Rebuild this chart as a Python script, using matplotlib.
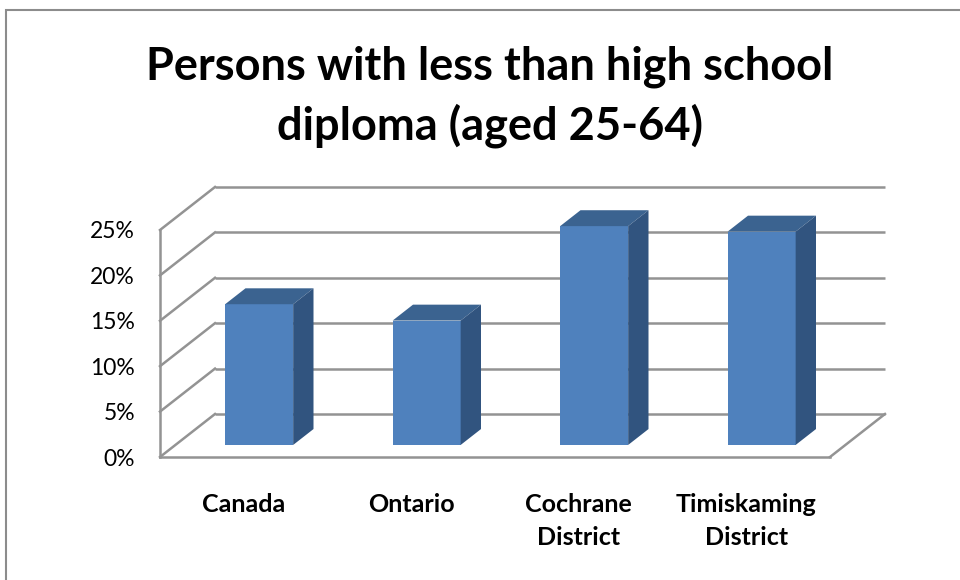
import matplotlib
matplotlib.use("Agg")
import matplotlib.pyplot as plt
from matplotlib.patches import Polygon, Rectangle

plt.rcParams['font.family'] = ['Lato', 'DejaVu Sans']

categories = ["Canada", "Ontario", "Cochrane\nDistrict", "Timiskaming\nDistrict"]
values = [0.155, 0.137, 0.241, 0.235]
ticks = [0.0, 0.05, 0.10, 0.15, 0.20, 0.25]
tick_labels = ["0%", "5%", "10%", "15%", "20%", "25%"]
title_lines = ["Persons with less than high school", "diploma (aged 25-64)"]

W, H = 960, 580
fig = plt.figure(figsize=(W / 100, H / 100), dpi=100)
fig.patch.set_facecolor("white")

# outer frame
fig.add_artist(Rectangle((6 / W, -0.1), 1.2, (H - 10) / H + 0.1, transform=fig.transFigure,
                         fill=False, edgecolor="#8c8c8c", lw=1.5))

ax = fig.add_axes([160 / W, 123 / H, 670 / W, 227 / H])
ax.set_xlim(-0.5, 3.5)
ax.set_ylim(0, 0.25)
for s in ax.spines.values():
    s.set_visible(False)
ax.set_facecolor("none")

# 3D depth offsets in data units
DX = 55 / 167.5
DY = 43 / 908.0
grid_c = "#939393"
glw = 1.8
x0, x1 = -0.5, 3.5

# back wall gridlines and left wall
for t in ticks:
    ax.plot([x0 + DX, x1 + DX], [t + DY, t + DY], color=grid_c, lw=glw, clip_on=False,
            solid_capstyle="butt", zorder=1)
    ax.plot([x0, x0 + DX], [t, t + DY], color=grid_c, lw=glw, clip_on=False, zorder=1)
ax.plot([x0, x0], [0, ticks[-1]], color=grid_c, lw=glw, clip_on=False, zorder=1)
# floor front edge and right diagonal
ax.plot([x0, x1], [0, 0], color=grid_c, lw=glw, clip_on=False, zorder=1)
ax.plot([x1, x1 + DX], [0, DY], color=grid_c, lw=glw, clip_on=False, zorder=1)

# bars
bw = 68 / 167.5
f0, f1 = 0.28, 0.65
front_c, top_c, side_c = "#4F81BD", "#3B6390", "#31547F"
for i, v in enumerate(values):
    ox, oy = f0 * DX, f0 * DY
    sx, sy = (f1 - f0) * DX, (f1 - f0) * DY
    l = i - bw / 2 + ox
    r = i + bw / 2 + ox
    b = oy
    t = v + oy
    ax.add_patch(Polygon([(l, b), (r, b), (r, t), (l, t)], closed=True,
                         facecolor=front_c, edgecolor="none", clip_on=False, zorder=3))
    ax.add_patch(Polygon([(l, t), (r, t), (r + sx, t + sy), (l + sx, t + sy)], closed=True,
                         facecolor=top_c, edgecolor="none", clip_on=False, zorder=3))
    ax.add_patch(Polygon([(r, b), (r + sx, b + sy), (r + sx, t + sy), (r, t)], closed=True,
                         facecolor=side_c, edgecolor="none", clip_on=False, zorder=3))

ax.set_yticks(ticks)
ax.set_yticklabels(tick_labels, fontsize=16.5)
ax.set_xticks(range(len(categories)))
ax.set_xticklabels(categories, fontsize=18, fontweight="bold")
for lab in ax.get_xticklabels():
    lab.set_linespacing(1.5)
ax.tick_params(axis="y", length=0, pad=18)
ax.tick_params(axis="x", length=0, pad=26)

fig.text(490 / W, 1 - 79 / H, title_lines[0], ha="center", va="baseline", fontsize=32.5,
         fontweight="bold")
fig.text(490 / W, 1 - 140 / H, title_lines[1], ha="center", va="baseline", fontsize=32.5,
         fontweight="bold")

fig.savefig("out.png", dpi=100, facecolor="white")
